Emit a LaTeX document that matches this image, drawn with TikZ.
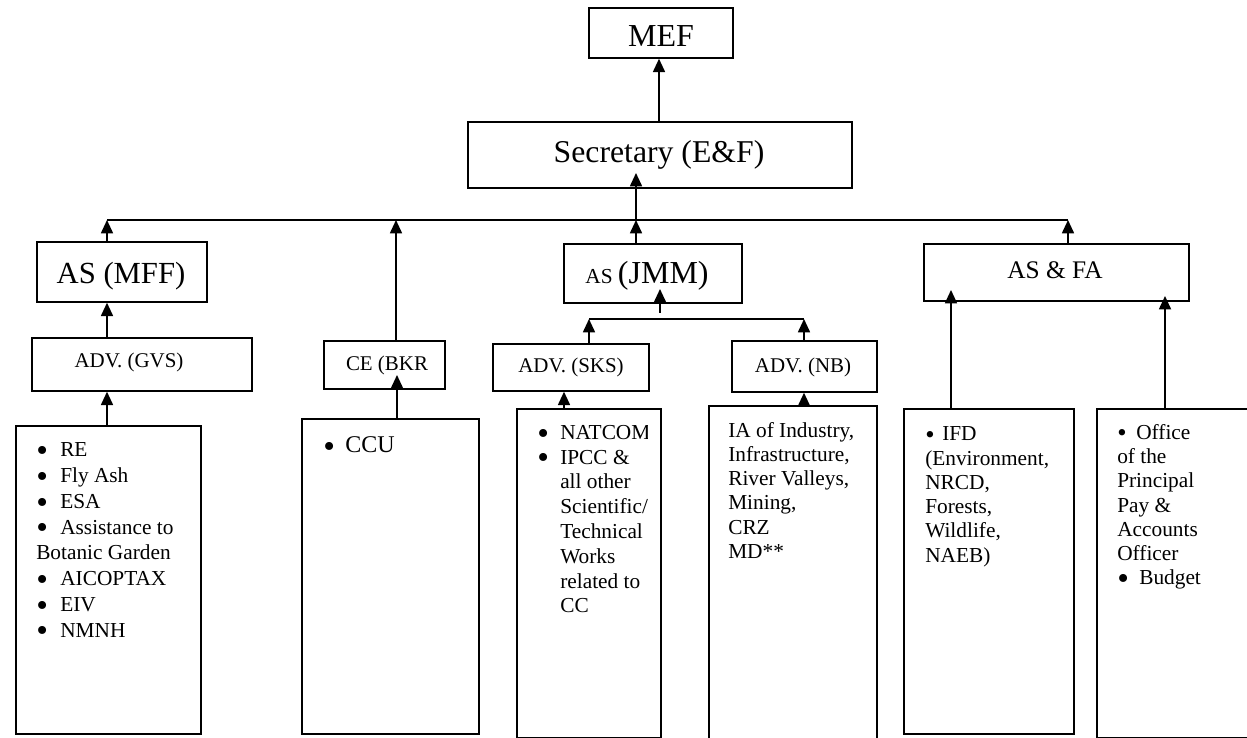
\documentclass[tikz,border=0pt]{standalone}
\usepackage{fontspec}
\setmainfont{Liberation Serif}
\usetikzlibrary{arrows.meta}
\tikzset{
  bx/.style={draw, line width=1.3pt, inner sep=0pt, anchor=north west},
  conn/.style={line width=1.3pt},
  arr/.style={line width=1.3pt, -{Triangle[length=10pt,width=9pt]}},
  lbl/.style={anchor=base, inner sep=0pt},
  blk/.style={anchor=north west, inner sep=0pt, align=left},
}
\newcommand\mkbox[5]{\node[bx, minimum width={(#4-#2)*0.75pt}, minimum height={(#5-#3)*0.75pt}] (#1) at (#2,#3) {};}
\newcommand\fs[2]{\fontsize{#1}{#2}\selectfont}
\newcommand\bul[1]{\makebox[#1][l]{\raisebox{-3.6pt}[0pt][0pt]{\fontsize{25}{25}\selectfont •}}}
\newcommand\sbul[1]{\makebox[#1][l]{\raisebox{-1.8pt}[0pt][0pt]{\fontsize{20}{20}\selectfont •}}}
\begin{document}
\begin{tikzpicture}[x=0.75pt,y=-0.75pt]
\useasboundingbox (0,0) rectangle (1247,738);
\fill[white] (0,0) rectangle (1247,738);

% boxes
\mkbox{mef}{588}{7}{732}{57}
\mkbox{sec}{467}{121}{851}{187}
\mkbox{asmff}{36}{241}{206}{301}
\mkbox{jmm}{563}{243}{741}{302}
\mkbox{asfa}{923}{243}{1188}{300}
\mkbox{gvs}{31}{337}{251}{390}
\mkbox{ce}{323}{340}{444}{388}
\mkbox{sks}{492}{343}{648}{390}
\mkbox{nb}{731}{340}{876}{391}
\mkbox{re}{15}{425}{200}{733}
\mkbox{ccu}{301}{418}{478}{733}
\mkbox{natcom}{516}{408}{660}{737}
\mkbox{ia}{708}{405}{876}{752}
\mkbox{ifd}{903}{408}{1073}{733}
\mkbox{office}{1096}{408}{1264}{737}

% box titles
\node[lbl, font=\fs{24}{28}] (tMEF) at (661,47) {MEF};
\node[lbl, font=\fs{23.8}{28}] (tSec) at (659,163) {Secretary (E\&F)};
\node[lbl, font=\fs{23}{28}] (tMFF) at (121,283) {AS (MFF)};
\node[lbl] (tJMM) at (647,283) {\fs{16}{20}AS \fs{24}{28}(JMM)};
\node[lbl, font=\fs{19}{22}] (tFA) at (1055,278) {AS \& FA};
\node[lbl, font=\fs{15.7}{19}] (tGVS) at (129,368) {ADV. (GVS)};
\node[lbl, font=\fs{15.7}{19}] (tCE) at (387,370) {CE (BKR};
\node[lbl, font=\fs{15.7}{19}] (tSKS) at (571,373) {ADV. (SKS)};
\node[lbl, font=\fs{15.7}{19}] (tNB) at (803,373) {ADV. (NB)};

% bottom texts
\node[blk, font=\fs{16}{19.3}] (tRE) at (36,440.7) {\rule{0pt}{12pt}\bul{18pt}RE\\\bul{18pt}Fly Ash\\\bul{18pt}ESA\\\bul{18pt}Assistance to\\Botanic Garden\\\bul{18pt}AICOPTAX\\\bul{18pt}EIV\\\bul{18pt}NMNH};
\node[blk, font=\fs{18}{21}] (tCCU) at (323,436) {\rule{0pt}{12pt}\bul{16.5pt}CCU};
\begin{scope}
\clip (515,400) rectangle (647,737);
\node[blk, font=\fs{16}{18.6}] (tNAT) at (537,423) {\rule{0pt}{12pt}\bul{17.25pt}NATCOM\\\bul{17.25pt}IPCC \&\\\hspace*{17.25pt}all other\\\hspace*{17.25pt}Scientific/\\\hspace*{17.25pt}Technical\\\hspace*{17.25pt}Works\\\hspace*{17.25pt}related to\\\hspace*{17.25pt}CC};
\end{scope}
\node[blk, font=\fs{16}{18.15}] (tIA) at (728,421) {\rule{0pt}{12pt}IA of Industry,\\Infrastructure,\\River Valleys,\\Mining,\\CRZ\\MD**};
\node[blk, font=\fs{16}{18.2}] (tIFD) at (925,424.5) {\rule{0pt}{12pt}\sbul{12.75pt}IFD\\(Environment,\\NRCD,\\Forests,\\Wildlife,\\NAEB)};
\node[blk, font=\fs{16}{18.2}] (tOff) at (1117,423) {\rule{0pt}{12pt}\sbul{14.25pt}Office\\of the\\Principal\\Pay \&\\Accounts\\Officer\\\bul{16.5pt}Budget};

% connectors
\coordinate (xA) at (659,0);
\draw[arr] (sec.north -| xA) -- (mef.south -| xA);
\coordinate (busL) at (107,220);
\coordinate (busR) at (1068,220);
\coordinate (busC) at (636,220);
\coordinate (busCE) at (396,220);
\draw[conn] (busL) -- (busR);
\coordinate (sectip) at (636,173);
\draw[arr] (busC) -- (sectip);
\draw[arr] (asmff.north -| busL) -- (busL);
\draw[arr] (ce.north -| busCE) -- (busCE);
\draw[arr] (jmm.north -| busC) -- (busC);
\draw[arr] (asfa.north -| busR) -- (busR);
\draw[arr] (gvs.north -| busL) -- (asmff.south -| busL);
\draw[arr] (re.north -| busL) -- (gvs.south -| busL);
\coordinate (cetip) at (397,375);
\draw[arr] (ccu.north -| cetip) -- (cetip);
\coordinate (sbL) at (589,319);
\coordinate (sbR) at (804,319);
\draw[conn] (sbL) -- (sbR);
\coordinate (jmmfoot) at (660,313);
\coordinate (jmmtip) at (660,289);
\draw[arr] (jmmfoot) -- (jmmtip);
\draw[arr] (sks.north -| sbL) -- (sbL);
\draw[arr] (nb.north -| sbR) -- (sbR);
\coordinate (xS) at (564,0);
\draw[arr] (natcom.north -| xS) -- (sks.south -| xS);
\draw[arr] (ia.north -| sbR) -- (nb.south -| sbR);
\coordinate (fa1) at (951,290);
\coordinate (fa2) at (1165,296);
\draw[arr] (ifd.north -| fa1) -- (fa1);
\draw[arr] (office.north -| fa2) -- (fa2);
\end{tikzpicture}
\end{document}
